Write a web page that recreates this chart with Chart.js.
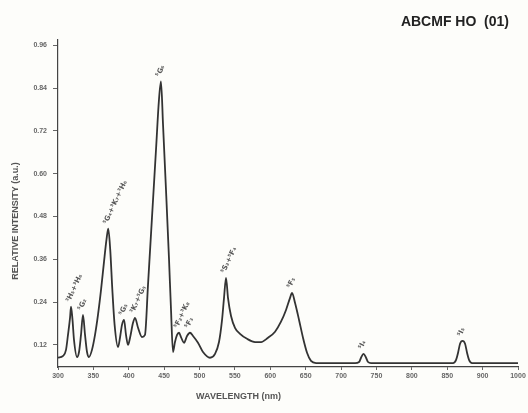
<!DOCTYPE html>
<html>
<head>
<meta charset="utf-8">
<script src="https://cdn.jsdelivr.net/npm/chart.js@4.4.0/dist/chart.umd.min.js"></script>
<style>
  html, body { margin: 0; padding: 0; background: #fdfdfa; }
  #wrap { width: 528px; height: 413px; }
</style>
</head>
<body>
<div id="wrap"><canvas id="spectrum"></canvas></div>
<script>
// absorption spectrum, values
const wavelength = [
  300, 307.1, 311.3, 314.1, 317.0, 318.4, 320.5, 322.6, 326.9, 329.7,
  332.5, 335.3, 338.2, 341.0, 343.8, 348.0, 352.3, 356.5, 360.8, 365.0,
  368.5, 371.0, 373.8, 376.8, 380.0, 384.8, 387.6, 390.4, 393.3, 396.1,
  398.9, 401.8, 406.0, 408.8, 413.1, 418.7, 422.9, 427.2, 432.8, 438.5,
  442.7, 445.5, 448.4, 452.6, 456.9, 459.7, 462.5, 465.3, 468.2, 471.0,
  473.8, 478.1, 482.3, 486.5, 490.8, 497.8, 504.9, 514.8, 521.9, 527.5,
  531.8, 534.6, 537.4, 540.2, 544.5, 550.1, 557.2, 567.1, 578.4, 586.9,
  596.8, 606.7, 615.1, 622.2, 627.9, 630.7, 634.9, 640.6, 646.2, 651.9,
  657.5, 664.6, 719.7, 725.4, 728.2, 731.7, 735.3, 738.1, 742.3, 858.2,
  862.5, 865.3, 868.1, 871.6, 875.2, 878.0, 880.8, 885.1, 950
];
const intensity = [
  0.084, 0.089, 0.106, 0.148, 0.196, 0.227, 0.190, 0.134, 0.086, 0.100,
  0.148, 0.204, 0.148, 0.100, 0.086, 0.106, 0.148, 0.204, 0.274, 0.353,
  0.415, 0.446, 0.387, 0.274, 0.176, 0.114, 0.140, 0.176, 0.190, 0.148,
  0.120, 0.140, 0.182, 0.196, 0.168, 0.142, 0.148, 0.289, 0.477, 0.668,
  0.808, 0.859, 0.738, 0.555, 0.359, 0.218, 0.100, 0.128, 0.148, 0.154,
  0.142, 0.126, 0.145, 0.154, 0.145, 0.126, 0.100, 0.084, 0.095, 0.128,
  0.190, 0.252, 0.308, 0.252, 0.201, 0.168, 0.151, 0.137, 0.128, 0.128,
  0.140, 0.157, 0.185, 0.218, 0.252, 0.266, 0.238, 0.190, 0.140, 0.098,
  0.075, 0.069, 0.069, 0.072, 0.084, 0.095, 0.084, 0.072, 0.069, 0.069,
  0.078, 0.098, 0.123, 0.131, 0.123, 0.098, 0.078, 0.069, 0.069
];

const xTickValues = [300, 350, 400, 450, 500, 550, 600, 650, 700, 750, 800, 850, 900, 950];
const xTickLabels = ['300', '350', '400', '450', '500', '550', '600', '650', '700', '750', '800', '850', '900', '1000'];
const yTickValues = [0.12, 0.24, 0.36, 0.48, 0.60, 0.72, 0.84, 0.96];

// transition labels over the peaks
const peakWavelength = [318.4, 335.3, 371.0, 393.3, 408.8, 445.5, 471.0, 486.5, 537.4, 630.7, 731.7, 871.6];
const peakIntensity = [0.227, 0.204, 0.446, 0.190, 0.196, 0.859, 0.154, 0.154, 0.308, 0.266, 0.095, 0.131];
const peakLabels = ['³H₅+³H₆', '⁵G₂', '⁵G₄+³K₇+³H₆', '⁵G₅', '³K₇+⁵G₅', '⁵G₆', '⁵F₂+³K₈', '⁵F₃', '⁵S₂+⁵F₄', '⁵F₅', '⁵I₄', '⁵I₅'];

const textPlugin = {
  id: 'figureTexts',
  afterDraw(chart) {
    const ctx = chart.ctx;
    const xs = chart.scales.x;
    const ys = chart.scales.y;
    ctx.save();
    ctx.fillStyle = '#222';
    ctx.textBaseline = 'middle';

    ctx.font = 'bold 14px "Liberation Sans", Arial, sans-serif';
    ctx.textAlign = 'right';
    ctx.fillText('ABCMF HO  (01)', xs.right - 9, 22);

    ctx.fillStyle = '#555';
    ctx.font = 'bold 9px "Liberation Sans", Arial, sans-serif';
    ctx.textAlign = 'center';
    ctx.fillText('WAVELENGTH (nm)', xs.getPixelForValue(555), 397);

    ctx.save();
    ctx.translate(16, 221);
    ctx.rotate(-Math.PI / 2);
    ctx.fillText('RELATIVE INTENSITY (a.u.)', 0, 0);
    ctx.restore();

    ctx.fillStyle = '#555';
    ctx.font = 'bold 7px "DejaVu Sans", sans-serif';
    ctx.textAlign = 'left';
    peakLabels.forEach((lab, i) => {
      const px = xs.getPixelForValue(peakWavelength[i]);
      const py = ys.getPixelForValue(peakIntensity[i]);
      ctx.save();
      ctx.translate(px - 3, py - 5);
      ctx.rotate(-Math.PI * 0.36);
      ctx.fillText(lab, 0, 0);
      ctx.restore();
    });
    ctx.restore();
  }
};

const tickFont = { family: '"Liberation Sans", Arial, sans-serif', size: 7, weight: 'bold' };

const ctx = document.getElementById('spectrum').getContext('2d');
const chart = new Chart(ctx, {
  type: 'line',
  data: {
    datasets: [{
      data: wavelength.map((w, i) => ({ x: w, y: intensity[i] })),
      borderColor: '#333',
      borderWidth: 1.8,
      pointRadius: 0,
      fill: false,
      cubicInterpolationMode: 'monotone'
    }]
  },
  options: {
    responsive: true,
    maintainAspectRatio: false,
    animation: false,
    layout: { padding: { top: 40, right: 10, bottom: 0, left: 0 } },
    plugins: {
      legend: { display: false },
      tooltip: { enabled: false }
    },
    scales: {
      x: {
        type: 'linear',
        min: 300,
        max: 950,
        afterBuildTicks: s => { s.ticks = xTickValues.map(v => ({ value: v })); },
        afterFit: s => { s.height = 46; },
        grid: { display: true, drawOnChartArea: false, drawTicks: true, tickLength: 3, color: '#666' },
        border: { display: true, color: '#444', width: 1.2 },
        ticks: {
          autoSkip: false,
          maxRotation: 0,
          padding: 2,
          color: '#666',
          font: tickFont,
          callback: (v, i) => xTickLabels[i]
        }
      },
      y: {
        min: 0.058,
        max: 0.975,
        afterBuildTicks: s => { s.ticks = yTickValues.map(v => ({ value: v })); },
        afterFit: s => { s.width = 58; },
        grid: { display: true, drawOnChartArea: false, drawTicks: true, tickLength: 5, color: '#666' },
        border: { display: true, color: '#444', width: 1.2 },
        ticks: {
          padding: 6,
          color: '#666',
          font: tickFont,
          callback: v => v.toFixed(2)
        }
      }
    }
  },
  plugins: [textPlugin]
});
</script>
</body>
</html>
